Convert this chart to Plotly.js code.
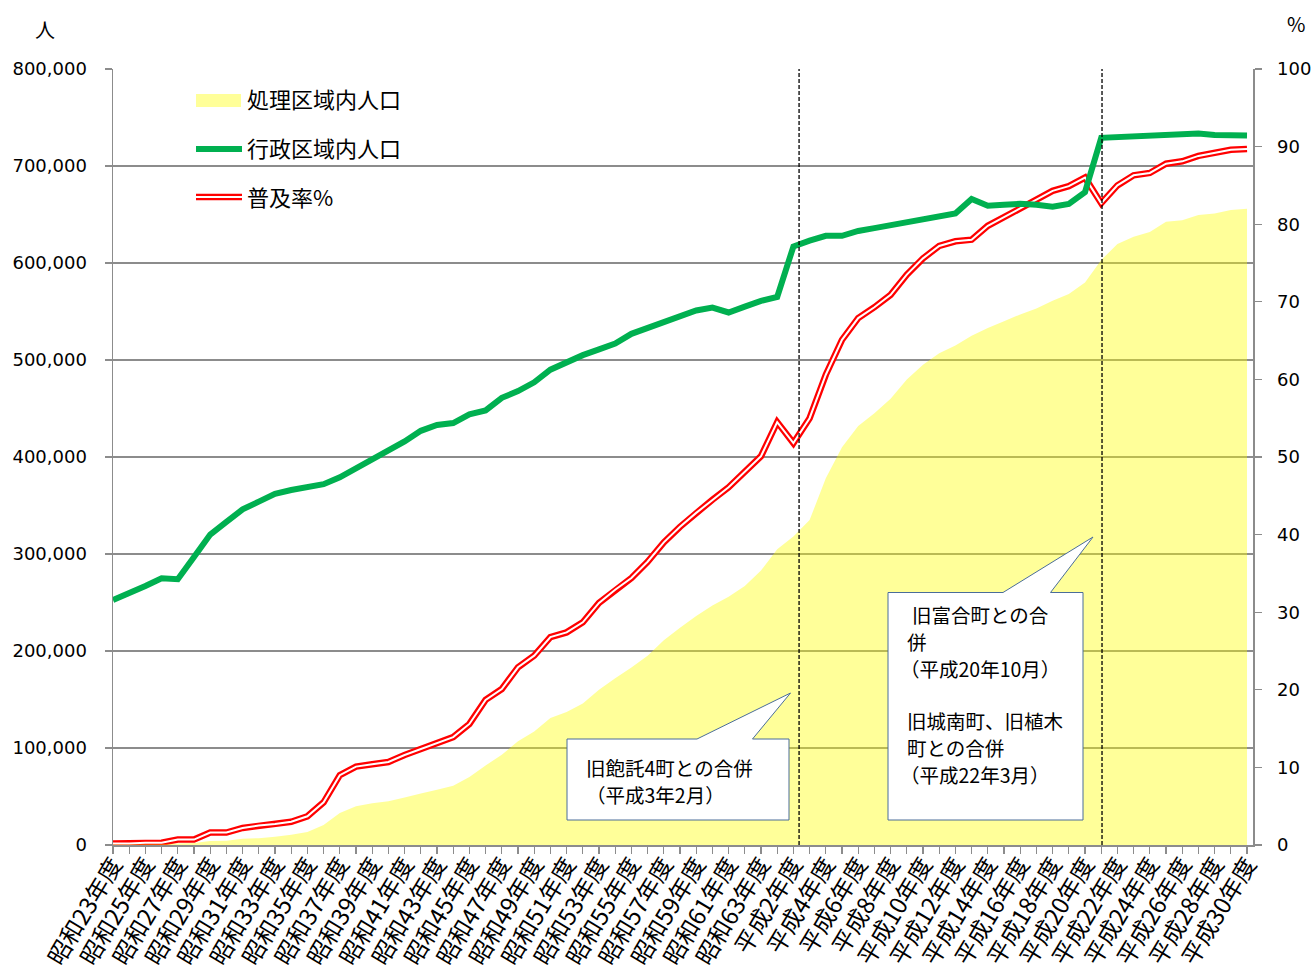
<!DOCTYPE html>
<html><head><meta charset="utf-8">
<script src="https://cdn.plot.ly/plotly-3.0.1.min.js"></script>
<style>body{margin:0;background:#fff}#chart{width:1314px;height:976px}</style>
</head><body><div id="chart"></div><script>
const categories = [
 '昭和23年度','昭和24年度','昭和25年度','昭和26年度','昭和27年度','昭和28年度','昭和29年度','昭和30年度','昭和31年度','昭和32年度',
 '昭和33年度','昭和34年度','昭和35年度','昭和36年度','昭和37年度','昭和38年度','昭和39年度','昭和40年度','昭和41年度','昭和42年度',
 '昭和43年度','昭和44年度','昭和45年度','昭和46年度','昭和47年度','昭和48年度','昭和49年度','昭和50年度','昭和51年度','昭和52年度',
 '昭和53年度','昭和54年度','昭和55年度','昭和56年度','昭和57年度','昭和58年度','昭和59年度','昭和60年度','昭和61年度','昭和62年度',
 '昭和63年度','平成元年度','平成2年度','平成3年度','平成4年度','平成5年度','平成6年度','平成7年度','平成8年度','平成9年度',
 '平成10年度','平成11年度','平成12年度','平成13年度','平成14年度','平成15年度','平成16年度','平成17年度','平成18年度','平成19年度',
 '平成20年度','平成21年度','平成22年度','平成23年度','平成24年度','平成25年度','平成26年度','平成27年度','平成28年度','平成29年度',
 '平成30年度'
];
// 処理区域内人口 (人)
const servedPop = [
 500,500,800,800,1500,2000,4000,4500,6500,7000,
 8500,10500,13500,20500,33000,40000,43000,45000,49000,53000,
 57000,61000,70000,82000,93000,107000,117000,131000,137000,146000,
 160000,172000,183000,195000,211000,224000,236000,247000,256000,267000,
 283000,305000,318000,335000,378000,410000,432000,445000,460000,480000,
 495000,507000,515000,525000,533000,540000,547000,553000,561000,568000,
 580000,603000,619600,627000,632000,642600,644000,649500,651000,654600,656000
];
// 行政区域内人口 (人)
const adminPop = [
 252600,259000,267000,275000,274000,297000,320000,333000,346000,354000,
 362000,366000,369000,372000,379000,388000,397000,407000,416000,427000,
 433000,435000,444000,448000,461000,468000,477000,490000,498000,505000,
 511000,517000,527000,533000,539000,545000,551000,554000,549000,555000,
 561000,565000,617000,623000,628000,628000,633000,636000,639000,642000,
 645000,648000,651000,666000,659000,660000,661000,660000,658000,661000,
 673000,729000,730000,730000,732000,733000,733500,733500,732000,732000,731500
];
// 普及率 (%)
const coverageRate = [
 0.2,0.2,0.3,0.3,0.7,0.7,1.6,1.6,2.2,2.5,
 2.7,3.0,3.7,5.5,9.0,10.1,10.4,10.7,11.6,12.4,
 13.1,13.9,15.6,18.7,20.1,22.9,24.4,26.8,27.4,28.7,
 31.2,32.9,34.4,36.5,39.0,41.0,42.8,44.5,46.1,48.1,
 50.1,54.5,51.8,55.0,60.6,65.1,67.9,69.3,70.9,73.5,
 75.6,77.2,77.8,78.0,79.8,80.9,82.0,83.2,84.3,84.9,
 86.0,82.7,85.0,86.3,86.6,87.8,88.1,88.8,89.2,89.6,89.7
];
const seriesNames = ['処理区域内人口','行政区域内人口','普及率%'];
const tickLabels = categories.map((c,i)=> i%2===0 ? c : '');

const CJK = '"Noto Sans CJK JP", sans-serif';
const NUM = '"DejaVu Sans", sans-serif';
const YELLOW = 'rgba(255,255,0,0.4)';
const GREEN = '#00b050';
const RED = '#ff0000';
const GRAY = '#8c8c8c';

// pixel -> paper helpers (plot area 113..1253 x 69..845)
const L=113, R=1253, T=69, B=845;
const px = x => (x-L)/(R-L);
const py = y => (B-y)/(B-T);

const traces = [
 {x: categories, y: coverageRate, type:'scatter', mode:'lines', yaxis:'y', name: seriesNames[2],
  line:{color:RED, width:6.5}, showlegend:false, hoverinfo:'skip'},
 {x: categories, y: coverageRate, type:'scatter', mode:'lines', yaxis:'y',
  line:{color:'#ffffff', width:2}, showlegend:false, hoverinfo:'skip'},
 {x: categories, y: servedPop, type:'scatter', mode:'none', fill:'tozeroy', yaxis:'y2', name: seriesNames[0],
  fillcolor: YELLOW, showlegend:false, hoverinfo:'skip'},
 {x: categories, y: adminPop, type:'scatter', mode:'lines', yaxis:'y2', name: seriesNames[1],
  line:{color:GREEN, width:6}, showlegend:false, hoverinfo:'skip'}
];

function callout(pts){
  return 'M ' + pts.map(p=>px(p[0])+','+py(p[1])).join(' L ') + ' Z';
}

const shapes = [
 {type:'line', xref:'x', yref:'paper', x0:42.35, x1:42.35, y0:0, y1:1, line:{color:'#000', width:1.3, dash:'4px,2px'}},
 {type:'line', xref:'x', yref:'paper', x0:61.05, x1:61.05, y0:0, y1:1, line:{color:'#000', width:1.3, dash:'4px,2px'}},
 {type:'path', xref:'paper', yref:'paper', fillcolor:'#ffffff', line:{color:'#4a6d99', width:1},
  path: callout([[567,739],[697,739],[790.5,693],[752.5,739],[789,739],[789,820],[567,820]])},
 {type:'path', xref:'paper', yref:'paper', fillcolor:'#ffffff', line:{color:'#4a6d99', width:1},
  path: callout([[888,592.5],[1003,592.5],[1093,537],[1050.5,592.5],[1083,592.5],[1083,820],[888,820]])},
 {type:'rect', xref:'paper', yref:'paper', x0:px(196), x1:px(241), y0:py(107), y1:py(94), fillcolor:YELLOW, line:{width:0}},
 {type:'line', xref:'paper', yref:'paper', x0:px(196), x1:px(242), y0:py(149), y1:py(149), line:{color:GREEN, width:6}},
 {type:'line', xref:'paper', yref:'paper', x0:px(196), x1:px(242), y0:py(197), y1:py(197), line:{color:RED, width:6.5}},
 {type:'line', xref:'paper', yref:'paper', x0:px(196), x1:px(242), y0:py(197), y1:py(197), line:{color:'#ffffff', width:2}}
];

function txt(text, x, y, size, font, anchor){
  return {text:text, xref:'paper', yref:'paper', x:px(x), y:py(y), xanchor:anchor||'left', yanchor:'middle',
          showarrow:false, font:{family:font||CJK, size:size||19, color:'#000'}};
}

const annotations = [
 txt('人', 45, 30, 20, CJK, 'center'),
 txt('%', 1296, 24, 20, CJK, 'center'),
 txt(seriesNames[0], 245, 98, 22),
 txt(seriesNames[1], 245, 147, 22),
 txt(seriesNames[2], 245, 196, 22),
 txt('旧飽託4町との合併', 584, 767, 19.5),
 txt('（平成3年2月）', 584, 794, 19.5),
 txt('旧富合町との合', 910, 614, 19.5),
 txt('併', 905, 641, 19.5),
 txt('（平成20年10月）', 898, 668, 19.5),
 txt('旧城南町、旧植木', 905, 720, 19.5),
 txt('町との合併', 905, 747, 19.5),
 txt('（平成22年3月）', 898, 774, 19.5)
];

const layout = {
 width:1314, height:976,
 margin:{l:L, r:1314-R, t:T, b:976-B, pad:0},
 paper_bgcolor:'#fff', plot_bgcolor:'#fff',
 showlegend:false,
 xaxis:{type:'category', range:[0, 70.37], tickmode:'array', tickvals:categories, ticktext:tickLabels,
        tickangle:-59, tickfont:{family:CJK, size:23.5, color:'#000'},
        ticks:'outside', ticklen:7, tickwidth:1.3, tickcolor:GRAY, ticklabelstandoff:-12,
        showline:true, linecolor:GRAY, linewidth:1.5, showgrid:false, zeroline:false, automargin:false},
 yaxis:{side:'right', range:[0,100], tickmode:'linear', tick0:0, dtick:10,
        tickfont:{family:NUM, size:18, color:'#000'}, ticks:'outside', ticklen:7, tickwidth:1.3, tickcolor:GRAY,
        showline:true, linecolor:GRAY, linewidth:1.5, showgrid:false, zeroline:false, automargin:false,
        ticklabelstandoff:12},
 yaxis2:{overlaying:'y', side:'left', range:[0,800000], tickmode:'linear', tick0:0, dtick:100000, tickformat:',d',
        tickfont:{family:NUM, size:18, color:'#000'}, ticks:'outside', ticklen:7, tickwidth:1.3, tickcolor:GRAY,
        showline:true, linecolor:GRAY, linewidth:1.5, showgrid:true, gridcolor:GRAY, gridwidth:1.3, zeroline:false,
        automargin:false, ticklabelstandoff:14},
 shapes: shapes,
 annotations: annotations
};

Plotly.newPlot('chart', traces, layout, {displayModeBar:false, staticPlot:true});
</script></body></html>
